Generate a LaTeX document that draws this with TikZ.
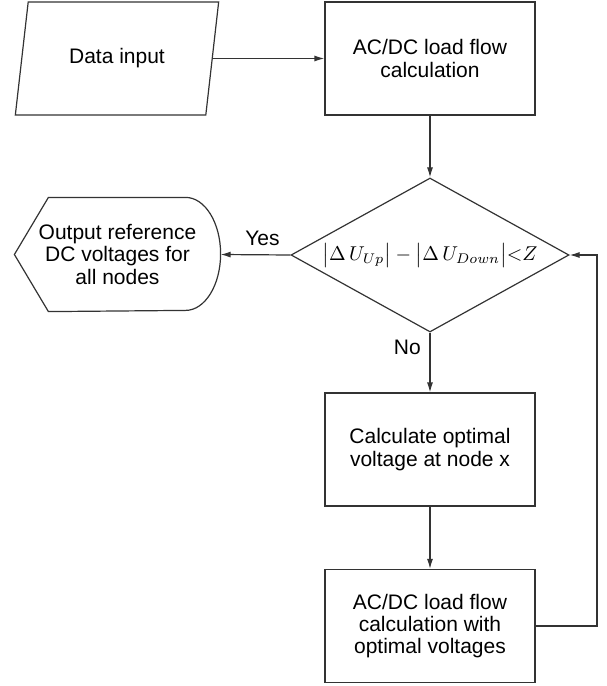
\documentclass[tikz,border=0pt]{standalone}
\usepackage{fontspec}
\setmainfont{Liberation Sans}
\usetikzlibrary{shapes.geometric,arrows.meta}
\begin{document}
\begin{tikzpicture}[x=.5pt,y=-.5pt,>={Latex[length=5pt,width=3pt]},
    line width=.6pt,
    every node/.style={font=\fontsize{10.5}{11.2}\selectfont},
    proc/.style={draw=black!80,minimum width=105pt,minimum height=56.5pt,align=center,inner sep=0pt},
    flow/.style={->,draw=black!80}]
    \useasboundingbox (0,0) rectangle (606,686);

    \node (din) [draw=black!80, trapezium, trapezium left angle=70.5, trapezium right angle=109.5,
      trapezium stretches, minimum width=102pt, minimum height=56.5pt, inner sep=0pt]
      at (117,58.5) {Data input};
    \node (lf) [proc] at (430,58.5) {AC/DC load flow\\calculation};
    \node (dec) [draw=black!80, diamond, aspect=1.8, minimum width=139pt, minimum height=77pt, inner sep=0pt,
      font=\fontsize{10}{11}\selectfont]
      at (430,255) {$\bigl|\Delta\,U_{Up}\bigr|-\bigl|\Delta\,U_{Down}\bigr|\mathord{<}Z$};
    \node (out) [minimum width=102.5pt, minimum height=56.5pt, inner sep=0pt, align=center]
      at (117.5,254.5) {Output reference\\DC voltages for\\all nodes};
    \draw[black!80] (out.west) -- ([xshift=17pt]out.north west) -- ([xshift=-17.5pt]out.north east)
      arc[start angle=90, end angle=-90, x radius=17.5pt, y radius=28.25pt]
      -- ([xshift=17pt]out.south west) -- cycle;
    \node (opt) [proc] at (430,449.5) {Calculate optimal\\voltage at node x};
    \node (lfopt) [proc] at (430,626) {AC/DC load flow\\calculation with\\optimal voltages};
    \coordinate (back) at (597,0);

    \draw[flow] (din.right side) -- (lf);
    \draw[flow] (lf) -- (dec);
    \draw[flow] (dec.west) -- node[above=1pt, pos=.4] (yes) {Yes} (out.east);
    \draw[flow] (dec) -- node[left=1pt, pos=.25] (no) {No} (opt);
    \draw[flow] (opt) -- (lfopt);
    \draw[flow] (lfopt.east) -| (back |- dec.east) -- (dec.east);
\end{tikzpicture}
\end{document}
